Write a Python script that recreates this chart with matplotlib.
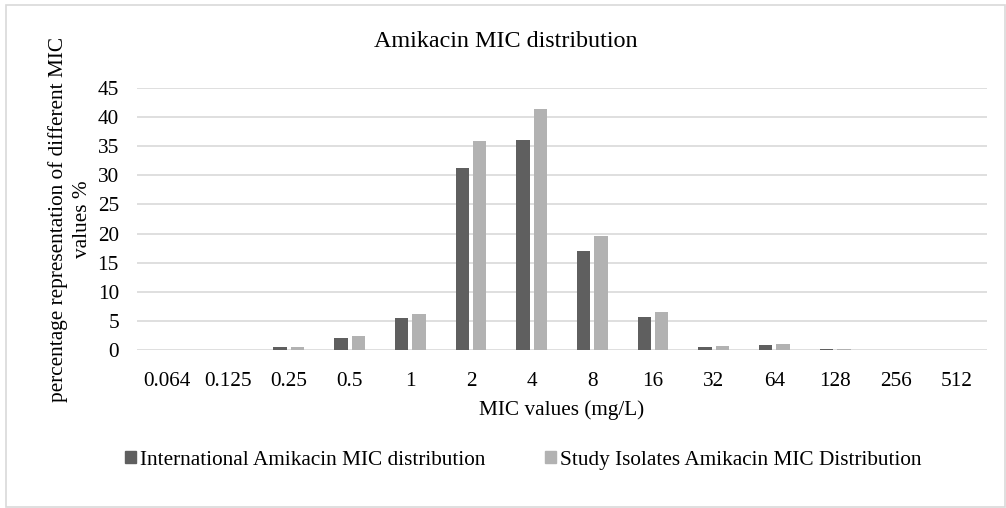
import numpy as np
import matplotlib
matplotlib.use("Agg")
import matplotlib.pyplot as plt
from matplotlib.patches import Patch, Rectangle

# MIC bins (mg/L) and share of isolates in each bin (%)
mic_labels = ['0.064', '0.125', '0.25', '0.5', '1', '2', '4', '8',
              '16', '32', '64', '128', '256', '512']
international = [0, 0, 0.4, 2.0, 5.4, 31.2, 36.1, 17.0, 5.6, 0.55, 0.85, 0.1, 0, 0]
study_isolates = [0, 0, 0.5, 2.4, 6.2, 35.9, 41.4, 19.6, 6.5, 0.65, 1.0, 0.1, 0, 0]

plt.rcParams['font.family'] = ['Liberation Serif', 'DejaVu Serif']

DARK = '#5f5f5f'
LIGHT = '#b2b2b2'
GRID = '#d9d9d9'
FS = 15.3

fig = plt.figure(figsize=(10.06, 5.08), dpi=100)
ax = fig.add_axes([0.1362, 0.3116, 0.8449, 0.5146])

x = np.arange(len(mic_labels))
width = 0.22
offset = 0.143
ax.bar(x - offset, international, width, color=DARK, zorder=3)
ax.bar(x + offset, study_isolates, width, color=LIGHT, zorder=3)

ax.set_xlim(-0.5, len(mic_labels) - 0.5)
ax.set_ylim(0, 45)
ax.set_yticks(range(0, 46, 5))
ax.set_xticks(x)
ax.set_xticklabels(mic_labels)
ax.grid(axis='y', color=GRID, linewidth=1.2, zorder=0)
ax.set_axisbelow(True)
for side in ['top', 'right', 'left', 'bottom']:
    ax.spines[side].set_visible(False)
ax.tick_params(axis='both', length=0, labelsize=FS, colors='#000000')
ax.tick_params(axis='y', pad=13)
ax.tick_params(axis='x', pad=16)

ax.set_xlabel('MIC values (mg/L)', fontsize=FS, labelpad=7)
ax.set_ylabel('percentage representation of different MIC\nvalues %',
              fontsize=FS, labelpad=4, linespacing=1.35)
fig.text(0.503, 0.918, 'Amikacin MIC distribution', fontsize=17.4,
         ha='center', va='center')

handles = [Patch(color=DARK), Patch(color=LIGHT)]
fig.legend(handles,
           ['International Amikacin MIC distribution',
            'Study Isolates Amikacin MIC Distribution'],
           loc='center', bbox_to_anchor=(0.520, 0.094), ncol=2,
           frameon=False, fontsize=FS, handlelength=0.52, handleheight=0.52,
           handletextpad=0.2, columnspacing=2.8)

# light frame round the whole chart
fig.patches.append(Rectangle((6 / 1006, 1 / 508), 999 / 1006, 502 / 508,
                             transform=fig.transFigure, fill=False,
                             edgecolor=GRID, linewidth=1.2))

fig.savefig('out.png', dpi=100)
